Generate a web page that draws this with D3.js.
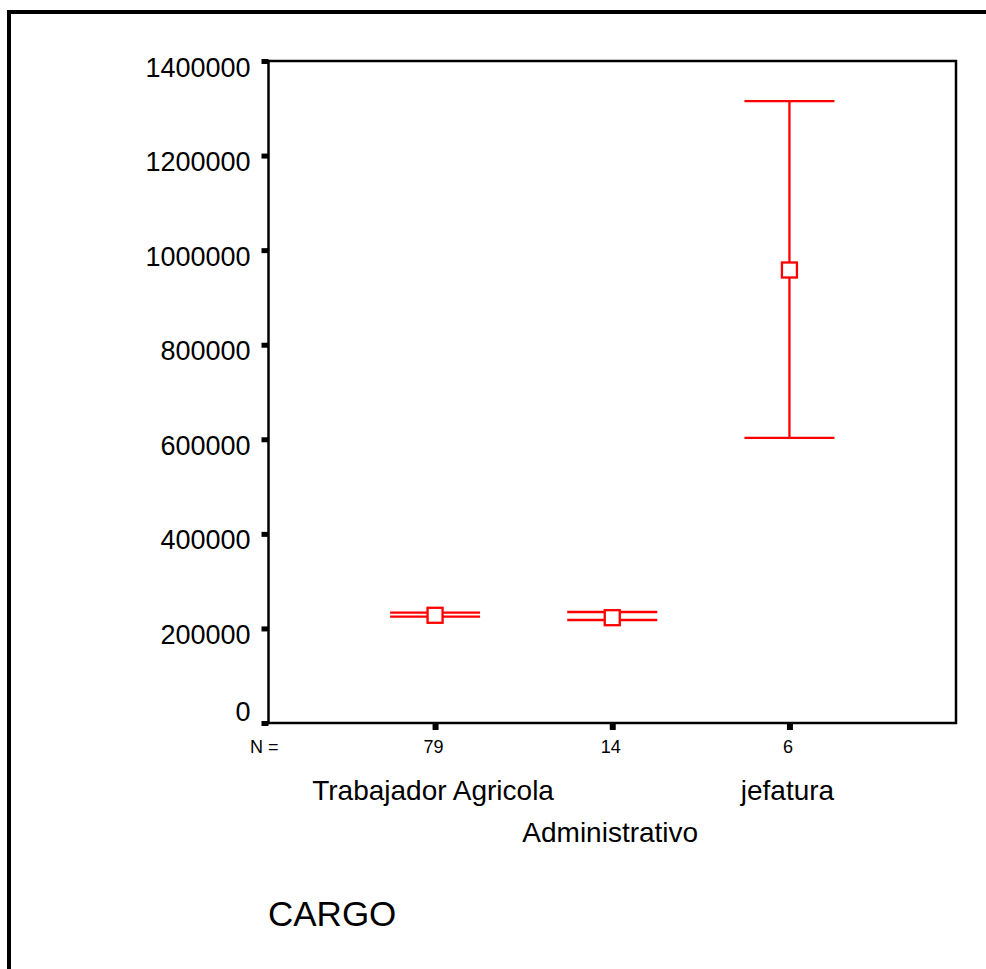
<!DOCTYPE html>
<html>
<head>
<meta charset="utf-8">
<script src="https://cdn.jsdelivr.net/npm/d3@7"></script>
<style>
  html, body { margin: 0; padding: 0; background: #fff; }
  svg { display: block; }
  text { font-family: "Liberation Sans", Arial, sans-serif; fill: #000; }
</style>
</head>
<body>
<script>
// ---- data ----
const categories = ["Trabajador Agricola", "Administrativo", "jefatura"];
const nCounts = ["79", "14", "6"];
const means = [227800, 222700, 958000];
const lowers = [224800, 217800, 603000];
const uppers = [233300, 234700, 1315000];
const yTicks = [0, 200000, 400000, 600000, 800000, 1000000, 1200000, 1400000];
const axisTitle = "CARGO";
const nLabel = "N =";

// ---- layout ----
const W = 986, H = 969;
const plot = { left: 268.5, right: 956, top: 61, bottom: 723 };

const svg = d3.select("body").append("svg").attr("width", W).attr("height", H);

// outer frame
svg.append("rect")
  .attr("x", 9).attr("y", 12).attr("width", 1100).attr("height", 1100)
  .attr("fill", "none").attr("stroke", "#000").attr("stroke-width", 4);

const y = d3.scaleLinear().domain([0, 1400000]).range([plot.bottom, plot.top]);
const x = d3.scalePoint().domain(categories).range([plot.left, plot.right]).padding(0.94);

// plot box
svg.append("rect")
  .attr("x", plot.left).attr("y", plot.top)
  .attr("width", plot.right - plot.left).attr("height", plot.bottom - plot.top)
  .attr("fill", "none").attr("stroke", "#000").attr("stroke-width", 2.5);

// y axis ticks + labels
const yAxis = d3.axisLeft(y).tickValues(yTicks).tickSize(7).tickFormat(d => d);
const gy = svg.append("g").attr("transform", `translate(${plot.left},0)`).call(yAxis);
gy.select(".domain").remove();
gy.selectAll(".tick line").attr("stroke", "#000").attr("stroke-width", 5);
gy.selectAll(".tick text")
  .attr("x", -18)
  .attr("dy", null)
  .attr("dominant-baseline", "central")
  .attr("y", d => Math.min(6, (y(0) - 11.5) - y(d)))
  .style("font-size", "27px")
  .style("font-family", '"Liberation Sans", Arial, sans-serif');

// x axis ticks + N labels
const xAxis = d3.axisBottom(x).tickSize(7).tickFormat((d, i) => nCounts[i]);
const gx = svg.append("g").attr("transform", `translate(0,${plot.bottom})`).call(xAxis);
gx.select(".domain").remove();
gx.selectAll(".tick line").attr("stroke", "#000").attr("stroke-width", 6);
gx.selectAll(".tick text")
  .attr("y", 30).attr("dy", null)
  .attr("x", -2)
  .style("font-size", "18px")
  .style("font-family", '"Liberation Sans", Arial, sans-serif');

svg.append("text").attr("x", 250).attr("y", 753)
  .style("font-size", "18px").text(nLabel);

// category labels (staggered)
svg.selectAll("text.cat").data(categories).enter().append("text")
  .attr("class", "cat")
  .attr("x", d => x(d) - 2)
  .attr("y", (d, i) => i === 1 ? 842 : 800)
  .attr("text-anchor", "middle")
  .style("font-size", "28px")
  .text(d => d);

// axis title
svg.append("text").attr("x", 268).attr("y", 926)
  .style("font-size", "35px").text(axisTitle);

// error bars
const red = "#ff0000";
const capHalf = 45;
const g = svg.append("g");
categories.forEach((c, i) => {
  const cx = x(c);
  g.append("line").attr("x1", cx).attr("x2", cx)
    .attr("y1", y(uppers[i])).attr("y2", y(lowers[i]))
    .attr("stroke", red).attr("stroke-width", 2.3);
  [uppers[i], lowers[i]].forEach(v => {
    g.append("line").attr("x1", cx - capHalf).attr("x2", cx + capHalf)
      .attr("y1", y(v)).attr("y2", y(v))
      .attr("stroke", red).attr("stroke-width", 2.3);
  });
  g.append("rect")
    .attr("x", cx - 7.5).attr("y", y(means[i]) - 7.5)
    .attr("width", 15).attr("height", 15)
    .attr("fill", "#fff").attr("stroke", red).attr("stroke-width", 2.3);
});
</script>
</body>
</html>
